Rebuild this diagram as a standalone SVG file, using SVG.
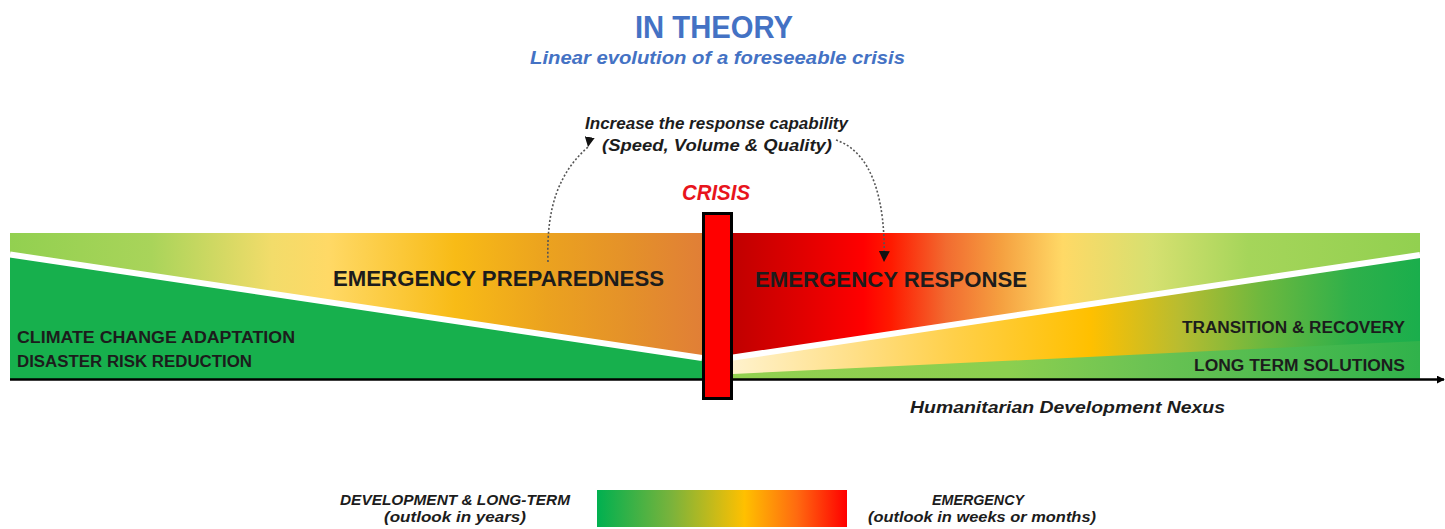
<svg xmlns="http://www.w3.org/2000/svg" width="1445" height="529" viewBox="0 0 1445 529">
  <style>
    .t { font-family: "Liberation Sans", Arial, sans-serif; font-weight: bold; }
    .ti { font-family: "Liberation Sans", Arial, sans-serif; font-weight: bold; font-style: italic; }
    .blue { fill: #4472c4; }
    .dark { fill: #1c1c1c; }
    .dots { fill: none; stroke: #555; stroke-width: 1.6; stroke-dasharray: 2 2; }
    .white { stroke: #ffffff; stroke-width: 6; fill: none; }
  </style>
  <defs>
    <linearGradient id="gLU" gradientUnits="userSpaceOnUse" x1="10" y1="0" x2="717" y2="0">
      <stop offset="0" stop-color="#92d050"/>
      <stop offset="0.2" stop-color="#a9d45a"/>
      <stop offset="0.37" stop-color="#f2dc6a"/>
      <stop offset="0.45" stop-color="#ffd966"/>
      <stop offset="0.63" stop-color="#f8bb16"/>
      <stop offset="0.76" stop-color="#eba21f"/>
      <stop offset="0.88" stop-color="#e4902a"/>
      <stop offset="1" stop-color="#e07b39"/>
    </linearGradient>
    <linearGradient id="gRU" gradientUnits="userSpaceOnUse" x1="733" y1="0" x2="1420" y2="0">
      <stop offset="0" stop-color="#c00000"/>
      <stop offset="0.1" stop-color="#e00000"/>
      <stop offset="0.19" stop-color="#ff0000"/>
      <stop offset="0.23" stop-color="#ff1a00"/>
      <stop offset="0.31" stop-color="#f26b30"/>
      <stop offset="0.39" stop-color="#f5a040"/>
      <stop offset="0.48" stop-color="#ffd966"/>
      <stop offset="0.61" stop-color="#d6e070"/>
      <stop offset="0.75" stop-color="#a5d55a"/>
      <stop offset="1" stop-color="#92d050"/>
    </linearGradient>
    <linearGradient id="gRL" gradientUnits="userSpaceOnUse" x1="733" y1="0" x2="1420" y2="0">
      <stop offset="0" stop-color="#fff2cc"/>
      <stop offset="0.17" stop-color="#ffe08a"/>
      <stop offset="0.32" stop-color="#ffd04a"/>
      <stop offset="0.52" stop-color="#ffc000"/>
      <stop offset="0.65" stop-color="#b8bc30"/>
      <stop offset="0.77" stop-color="#6db83e"/>
      <stop offset="0.9" stop-color="#2eb04a"/>
      <stop offset="1" stop-color="#1aae4c"/>
    </linearGradient>
    <linearGradient id="gRS" gradientUnits="userSpaceOnUse" x1="733" y1="0" x2="1420" y2="0">
      <stop offset="0" stop-color="#92d050"/>
      <stop offset="0.4" stop-color="#8ccf4f"/>
      <stop offset="0.6" stop-color="#6cc353"/>
      <stop offset="1" stop-color="#30b24b"/>
    </linearGradient>
    <linearGradient id="gLeg" x1="0" y1="0" x2="1" y2="0">
      <stop offset="0" stop-color="#00b050"/>
      <stop offset="0.3" stop-color="#7bb33b"/>
      <stop offset="0.59" stop-color="#ffc000"/>
      <stop offset="0.8" stop-color="#ff6a10"/>
      <stop offset="1" stop-color="#ff0000"/>
    </linearGradient>
    <marker id="ahDown" viewBox="0 0 10 10" refX="10" refY="5" markerWidth="10" markerHeight="10" markerUnits="userSpaceOnUse" orient="100">
      <path d="M0,0 L10,5 L0,10 z" fill="#111"/>
    </marker>
    <marker id="ahAuto" viewBox="0 0 10 10" refX="10" refY="5" markerWidth="11" markerHeight="11" markerUnits="userSpaceOnUse" orient="auto">
      <path d="M0,0 L10,5 L0,10 z" fill="#111"/>
    </marker>
    <marker id="ahAxis" viewBox="0 0 10 10" refX="9" refY="5" markerWidth="8" markerHeight="8" markerUnits="userSpaceOnUse" orient="auto">
      <path d="M0,0 L10,5 L0,10 z" fill="#000"/>
    </marker>
  </defs>

  <rect width="1445" height="529" fill="#ffffff"/>

  <g id="title">
    <text class="t blue" x="635" y="38" font-size="31" textLength="158" lengthAdjust="spacingAndGlyphs">IN THEORY</text>
    <text class="ti blue" x="530" y="64" font-size="19" textLength="375" lengthAdjust="spacingAndGlyphs">Linear evolution of a foreseeable crisis</text>
  </g>

  <g id="band-left">
    <rect x="10" y="233" width="707" height="146" fill="url(#gLU)"/>
    <polygon points="10,254.5 702,358 702,379 10,379" fill="#17b04d"/>
    <line class="white" x1="10" y1="254.5" x2="702" y2="358"/>
    <text class="t dark" x="333" y="286" font-size="22" textLength="331" lengthAdjust="spacingAndGlyphs">EMERGENCY PREPAREDNESS</text>
    <text class="t dark" x="17" y="342.5" font-size="16" textLength="278" lengthAdjust="spacingAndGlyphs">CLIMATE CHANGE ADAPTATION</text>
    <text class="t dark" x="17" y="367" font-size="16" textLength="235" lengthAdjust="spacingAndGlyphs">DISASTER RISK REDUCTION</text>
  </g>

  <g id="band-right">
    <rect x="717" y="233" width="703" height="146" fill="url(#gRU)"/>
    <polygon points="733,357.5 1420,255 1420,379 733,379" fill="url(#gRL)"/>
    <polygon points="733,374 1420,341 1420,379 733,379" fill="url(#gRS)"/>
    <line class="white" x1="733" y1="357.5" x2="1420" y2="255"/>
    <text class="t dark" x="755" y="287" font-size="22" textLength="272" lengthAdjust="spacingAndGlyphs">EMERGENCY RESPONSE</text>
    <text class="t dark" x="1182" y="333" font-size="16" textLength="223" lengthAdjust="spacingAndGlyphs">TRANSITION &amp; RECOVERY</text>
    <text class="t dark" x="1194" y="371" font-size="16" textLength="211" lengthAdjust="spacingAndGlyphs">LONG TERM SOLUTIONS</text>
  </g>

  <g id="connectors">
    <line x1="10" y1="379.5" x2="1444" y2="379.5" stroke="#000" stroke-width="2.5" marker-end="url(#ahAxis)"/>
    <path class="dots" d="M548,262 C546,205 560,172 588,147" marker-end="url(#ahDown)"/>
    <path class="dots" d="M836,140 C872,152 886,200 884,262" marker-end="url(#ahAuto)"/>
  </g>

  <g id="crisis">
    <rect x="703.5" y="213.5" width="28" height="185" fill="#ff0000" stroke="#000" stroke-width="3"/>
    <text class="ti" x="682" y="200" font-size="22" fill="#e8141c" textLength="68" lengthAdjust="spacingAndGlyphs">CRISIS</text>
  </g>

  <g id="capability-label">
    <text class="ti dark" x="585" y="129" font-size="16" textLength="263" lengthAdjust="spacingAndGlyphs">Increase the response capability</text>
    <text class="ti dark" x="602" y="151" font-size="16" textLength="230" lengthAdjust="spacingAndGlyphs">(Speed, Volume &amp; Quality)</text>
  </g>

  <g id="nexus-label">
    <text class="ti dark" x="910" y="413" font-size="16" textLength="315" lengthAdjust="spacingAndGlyphs">Humanitarian Development Nexus</text>
  </g>

  <g id="legend">
    <rect x="597" y="490" width="250" height="37" fill="url(#gLeg)"/>
    <text class="ti dark" x="455" y="505" font-size="14" text-anchor="middle" textLength="230" lengthAdjust="spacingAndGlyphs">DEVELOPMENT &amp; LONG-TERM</text>
    <text class="ti dark" x="455" y="522" font-size="14" text-anchor="middle" textLength="142" lengthAdjust="spacingAndGlyphs" font-weight="600">(outlook in years)</text>
    <text class="ti dark" x="978" y="505" font-size="14" text-anchor="middle" textLength="92" lengthAdjust="spacingAndGlyphs">EMERGENCY</text>
    <text class="ti dark" x="982" y="522" font-size="14" text-anchor="middle" textLength="228" lengthAdjust="spacingAndGlyphs">(outlook in weeks or months)</text>
  </g>
</svg>
